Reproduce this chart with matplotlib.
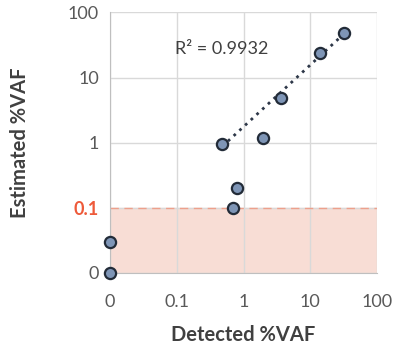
import numpy as np
import matplotlib.pyplot as plt

plt.rcParams['font.family'] = ['Lato', 'DejaVu Sans']

# detected vs estimated %VAF ("0" drawn at 0.01 on the log axes)
detected = [0.01, 0.01, 0.69, 0.81, 0.48, 1.95, 3.6, 14, 32]
estimated = [0.03, 0.01, 0.1, 0.2, 0.96, 1.2, 4.8, 24, 48]
fit_x = [0.48, 3.6, 14, 32]
fit_y = [0.96, 4.8, 24, 48]
ticks = [0.01, 0.1, 1, 10, 100]
tick_labels = ['0', '0.1', '1', '10', '100']
r2_text = 'R² = 0.9932'

fig = plt.figure(figsize=(3.97, 3.46), dpi=100)
ax = fig.add_axes([0.277, 0.211, 0.673, 0.753])
ax.set_xscale('log')
ax.set_yscale('log')
ax.set_xlim(0.01, 100)
ax.set_ylim(0.01, 100)

# shaded zone below 0.1
ax.axhspan(0.01, 0.1, color='#f8ddd5', zorder=0)
ax.axhline(0.1, color='#eda08c', ls=(0, (6, 4)), lw=1, zorder=1)

# power trendline
slope, icpt = np.polyfit(np.log10(fit_x), np.log10(fit_y), 1)
xs = np.logspace(np.log10(min(fit_x)), np.log10(max(fit_x)), 50)
ax.plot(xs, 10 ** (icpt + slope * np.log10(xs)), color='#2d3748', ls=(0, (1, 1.8)),
        lw=2, zorder=2)

ax.scatter(detected, estimated, s=65, color='#7e95b6', edgecolor='#222b38', lw=1.6,
           zorder=3, clip_on=False)

ax.text(0.093, 27, r2_text, fontsize=13, color='#404040', ha='left', va='center')

ax.set_xticks(ticks)
ax.set_xticklabels(tick_labels)
ax.set_yticks(ticks)
ax.set_yticklabels(tick_labels)
ax.minorticks_off()
ax.tick_params(length=0, labelsize=13, labelcolor='#595959')
ax.tick_params(axis='x', pad=15)
ax.tick_params(axis='y', pad=8)
yl = ax.get_yticklabels()[1]
yl.set_color('#ee5a3a')
yl.set_fontweight('bold')

ax.grid(True, color='#d9d9d9', lw=1)
ax.set_axisbelow(True)
for s in ['top', 'right']:
    ax.spines[s].set_visible(False)
for s in ['left', 'bottom']:
    ax.spines[s].set_color('#bfbfbf')

ax.set_xlabel('Detected %VAF', fontsize=14.5, fontweight='bold', color='#404040', labelpad=10)
ax.set_ylabel('Estimated %VAF', fontsize=14.5, fontweight='bold', color='#404040')
ax.yaxis.set_label_coords(-0.3, 0.5)
ax.xaxis.set_label_coords(0.5, -0.2)

fig.savefig('out.png', dpi=100)
